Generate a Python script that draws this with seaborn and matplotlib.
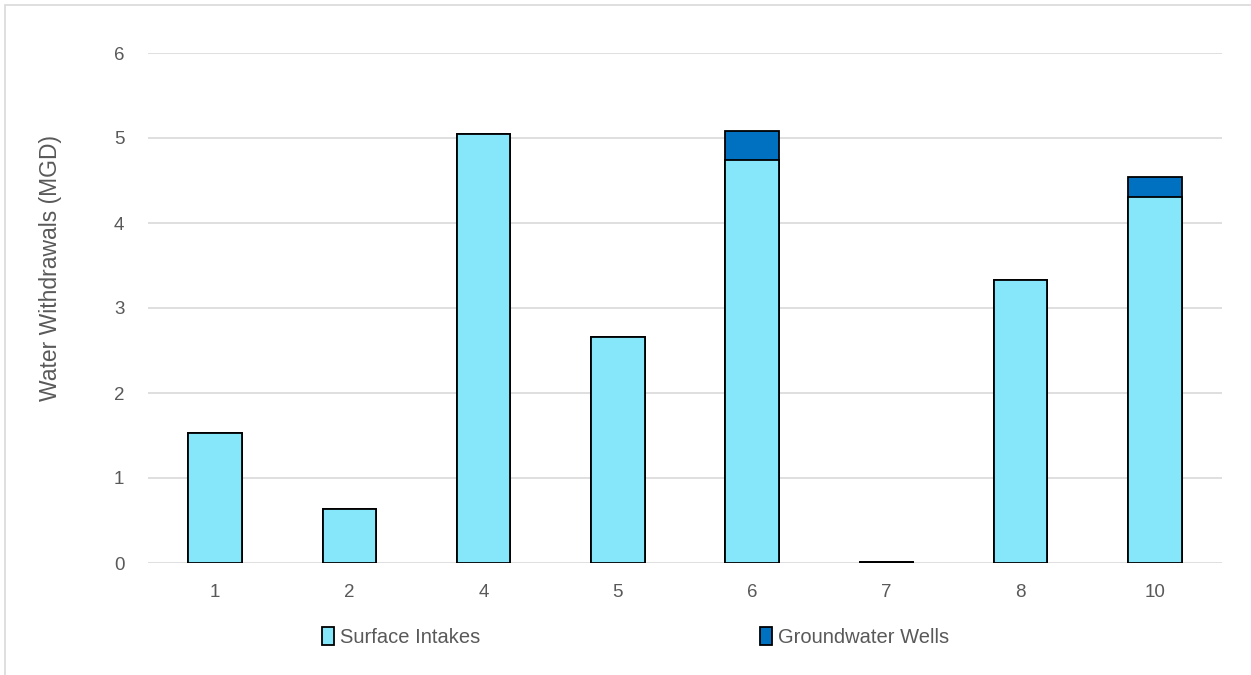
import matplotlib
matplotlib.use("Agg")
import matplotlib.pyplot as plt
import seaborn as sns
import pandas as pd
from matplotlib.patches import Patch

# Withdrawals per site, million gallons per day
sites = ["1", "2", "4", "5", "6", "7", "8", "10"]
surface_intakes = [1.53, 0.635, 5.05, 2.66, 4.74, 0.01, 3.33, 4.31]
groundwater_wells = [0.0, 0.0, 0.0, 0.0, 0.34, 0.0, 0.0, 0.23]
series_names = ["Surface Intakes", "Groundwater Wells"]

surface_color = "#86e6fa"
ground_color = "#0070c0"
text_color = "#595959"
grid_color = "#d9d9d9"

df = pd.DataFrame({
    "site": sites,
    "surface": surface_intakes,
    "ground": groundwater_wells,
})
df["total"] = df["surface"] + df["ground"]

sns.set_style("white")
plt.rcParams["font.family"] = ["Liberation Sans", "DejaVu Sans"]

fig = plt.figure(figsize=(12.51, 6.75), dpi=100)
ax = fig.add_axes([148 / 1251, 1 - 563 / 675, (1222 - 148) / 1251, (563 - 53) / 675])

# Stacked bars: full height in groundwater colour, surface share drawn over it
sns.barplot(data=df, x="site", y="total", order=sites, color=ground_color,
            saturation=1, width=0.4, edgecolor="black", linewidth=1.3, ax=ax)
sns.barplot(data=df, x="site", y="surface", order=sites, color=surface_color,
            saturation=1, width=0.4, edgecolor="black", linewidth=1.3, ax=ax)

ax.set_ylim(0, 6)
ax.set_yticks(range(0, 7))
ax.yaxis.grid(True, color=grid_color, linewidth=1.2)
ax.set_axisbelow(True)
for s in ax.spines.values():
    s.set_visible(False)
ax.tick_params(axis="both", length=0, labelsize=13.5, colors=text_color)
ax.tick_params(axis="x", pad=15)
ax.tick_params(axis="y", pad=17)
ax.set_xlabel("")
ax.set_ylabel("Water Withdrawals (MGD)", fontsize=16.5, color=text_color)
ax.yaxis.set_label_coords(-0.080, 0.578)

colors = [surface_color, ground_color]
anchors = [322 / 1251, 760 / 1251]
for name, col, x0 in zip(series_names, colors, anchors):
    h = Patch(facecolor=col, edgecolor="black", linewidth=1.3, label=name)
    leg = fig.legend(handles=[h], loc="center left", bbox_to_anchor=(x0, 1 - 637 / 675),
                     frameon=False, borderaxespad=0, borderpad=0,
                     prop={"size": 14.5},
                     handlelength=0.6, handleheight=1.0, handletextpad=0.3)
    for t in leg.get_texts():
        t.set_color(text_color)

# Light chart border along the left and top edges
fig.patches.append(plt.Rectangle((5 / 1251, -0.05), 1.1, 1.05 - 5 / 675,
                                 transform=fig.transFigure, fill=False,
                                 edgecolor=grid_color, linewidth=1.2))

fig.savefig("out.png", dpi=100)
